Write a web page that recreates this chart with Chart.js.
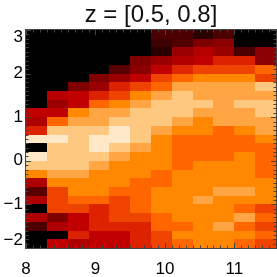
<!DOCTYPE html>
<html>
<head>
<meta charset="utf-8">
<script src="https://cdn.jsdelivr.net/npm/chart.js@4.4.1/dist/chart.umd.min.js"></script>
<style>
  html, body { margin: 0; padding: 0; background: #fff; }
</style>
</head>
<body>
<canvas id="heat" width="277" height="277"></canvas>
<script>
// left edges of the x bins (each 0.3 wide)
const xBins = [8.0, 8.3, 8.6, 8.9, 9.2, 9.5, 9.8, 10.1, 10.4, 10.7, 11.0, 11.3];
// bottom edges of the y bins, top row first (each 0.2 tall)
const yBins = [2.8, 2.6, 2.4, 2.2, 2.0, 1.8, 1.6, 1.4, 1.2, 1.0, 0.8, 0.6, 0.4,
               0.2, 0.0, -0.2, -0.4, -0.6, -0.8, -1.0, -1.2, -1.4, -1.6, -1.8, -2.0];
const xTickValues = [8, 9, 10, 11];
const yTickValues = [-2, -1, 0, 1, 2, 3];
const titleText = 'z = [0.5, 0.8]';

// colour-table index of every cell (0 = black, 255 = white), rows follow yBins
const density = [
    [0, 0, 0, 0, 0, 0, 52, 52, 29, 52, 0, 0],
    [0, 0, 0, 0, 0, 0, 42, 55, 87, 94, 0, 0],
    [0, 0, 0, 0, 0, 0, 29, 104, 123, 104, 50, 94],
    [0, 0, 0, 0, 0, 87, 104, 120, 130, 150, 150, 94],
    [0, 0, 0, 0, 60, 94, 130, 152, 162, 162, 162, 174],
    [0, 0, 0, 87, 104, 130, 162, 174, 192, 192, 192, 162],
    [0, 0, 87, 104, 150, 162, 174, 207, 207, 207, 207, 226],
    [0, 125, 130, 150, 162, 192, 207, 226, 207, 207, 207, 207],
    [0, 104, 130, 174, 192, 207, 226, 226, 226, 207, 226, 226],
    [130, 130, 192, 207, 207, 226, 226, 226, 207, 207, 207, 226],
    [118, 174, 207, 207, 226, 226, 226, 207, 192, 207, 207, 207],
    [150, 226, 226, 226, 243, 226, 207, 192, 192, 174, 192, 207],
    [243, 243, 226, 243, 243, 226, 192, 174, 174, 174, 174, 192],
    [0, 226, 226, 243, 226, 207, 192, 174, 174, 174, 174, 174],
    [243, 226, 226, 226, 207, 192, 192, 174, 174, 174, 192, 174],
    [226, 226, 226, 207, 192, 192, 192, 174, 192, 192, 192, 174],
    [192, 207, 207, 192, 192, 192, 174, 192, 192, 192, 192, 174],
    [118, 192, 192, 192, 192, 174, 174, 192, 192, 192, 192, 192],
    [60, 162, 192, 192, 174, 174, 192, 192, 192, 207, 207, 192],
    [118, 162, 174, 174, 162, 174, 192, 192, 207, 192, 192, 192],
    [0, 162, 162, 150, 162, 174, 192, 192, 192, 192, 174, 162],
    [118, 87, 130, 150, 162, 162, 174, 192, 192, 192, 207, 174],
    [50, 118, 130, 150, 150, 150, 174, 174, 192, 207, 174, 162],
    [0, 0, 150, 130, 130, 150, 162, 192, 192, 192, 192, 174],
    [0, 130, 118, 130, 130, 150, 162, 174, 192, 192, 174, 162]
];

const binW = 0.3;
const binH = 0.2;

// red temperature colour table
const colourStops = [
    [0, [0, 0, 0]], [130, [192, 0, 0]], [150, [221, 34, 0]], [162, [238, 68, 0]],
    [174, [255, 102, 0]], [192, [255, 136, 0]], [207, [255, 165, 68]],
    [226, [255, 200, 128]], [243, [255, 232, 200]], [255, [255, 255, 255]]
];

function colourFor(v) {
    for (let i = 1; i < colourStops.length; i++) {
        const [v1, c1] = colourStops[i];
        const [v0, c0] = colourStops[i - 1];
        if (v <= v1) {
            const t = (v - v0) / (v1 - v0);
            const c = c0.map((a, k) => Math.round(a + (c1[k] - a) * t));
            return `rgb(${c[0]},${c[1]},${c[2]})`;
        }
    }
    return '#fff';
}

const cells = [];
yBins.forEach((y0, r) => {
    xBins.forEach((x0, c) => {
        cells.push({ x: x0 + binW / 2, y: y0 + binH / 2, x0: x0, y0: y0, v: density[r][c] });
    });
});

const axisColour = '#444';
const labelFont = '17px "Liberation Sans", Arial, sans-serif';

const heatPlugin = {
    id: 'heatCells',
    beforeDatasetsDraw(chart) {
        const { ctx, scales: { x, y } } = chart;
        ctx.save();
        chart.data.datasets[0].data.forEach(c => {
            const px0 = Math.round(x.getPixelForValue(c.x0));
            const px1 = Math.round(x.getPixelForValue(c.x0 + binW));
            const py0 = Math.round(y.getPixelForValue(c.y0 + binH));
            const py1 = Math.round(y.getPixelForValue(c.y0));
            ctx.fillStyle = colourFor(c.v);
            ctx.fillRect(px0, py0, px1 - px0, py1 - py0);
        });
        ctx.restore();
    },
    afterDraw(chart) {
        const { ctx, chartArea: a, scales: { x, y } } = chart;
        ctx.save();
        ctx.strokeStyle = axisColour;
        ctx.lineWidth = 1;
        ctx.strokeRect(a.left - 0.5, a.top - 0.5, a.right - a.left + 1, a.bottom - a.top + 1);

        // inward ticks, minor every 0.1
        ctx.beginPath();
        for (let i = 0; i <= 36; i++) {
            const v = 8 + i * 0.1;
            const len = i % 10 === 0 ? 5 : 2.5;
            const px = Math.round(x.getPixelForValue(v)) + 0.5;
            ctx.moveTo(px, a.bottom); ctx.lineTo(px, a.bottom - len);
            ctx.moveTo(px, a.top); ctx.lineTo(px, a.top + len);
        }
        for (let i = 0; i <= 50; i++) {
            const v = -2 + i * 0.1;
            const len = i % 10 === 0 ? 5 : 2.5;
            const py = Math.round(y.getPixelForValue(v)) + 0.5;
            ctx.moveTo(a.left, py); ctx.lineTo(a.left + len, py);
            ctx.moveTo(a.right, py); ctx.lineTo(a.right - len, py);
        }
        ctx.stroke();

        // y labels, the end ones kept inside the axis span
        ctx.fillStyle = '#000';
        ctx.font = labelFont;
        ctx.textAlign = 'right';
        ctx.textBaseline = 'middle';
        yTickValues.forEach(v => {
            let py = y.getPixelForValue(v);
            py = Math.min(Math.max(py, a.top + 7), a.bottom - 8);
            ctx.fillText(String(v).replace('-', '\u2212'), 23, py);
        });
        ctx.restore();
    }
};

new Chart(document.getElementById('heat').getContext('2d'), {
    type: 'scatter',
    data: {
        datasets: [{
            data: cells,
            pointRadius: 0,
            pointHoverRadius: 0
        }]
    },
    options: {
        responsive: false,
        animation: false,
        events: [],
        layout: { padding: { right: 1 } },
        plugins: {
            legend: { display: false },
            tooltip: { enabled: false },
            title: {
                display: true,
                text: titleText,
                fullSize: false,
                color: '#111',
                font: { family: '"Liberation Sans", Arial, sans-serif', size: 24, weight: 'normal', lineHeight: 1.2 },
                padding: { top: 1, bottom: 0.2 }
            }
        },
        scales: {
            x: {
                type: 'linear',
                min: 8,
                max: 11.6,
                afterBuildTicks: scale => { scale.ticks = xTickValues.map(v => ({ value: v })); },
                afterFit: scale => { scale.height = 29; },
                grid: { display: false, drawTicks: false },
                border: { display: false },
                ticks: {
                    color: '#000',
                    padding: 11,
                    maxRotation: 0,
                    font: { family: '"Liberation Sans", Arial, sans-serif', size: 17 }
                }
            },
            y: {
                type: 'linear',
                min: -2,
                max: 3,
                afterFit: scale => { scale.width = 26; },
                grid: { display: false, drawTicks: false },
                border: { display: false },
                ticks: { display: false, stepSize: 1 }
            }
        }
    },
    plugins: [heatPlugin]
});
</script>
</body>
</html>
